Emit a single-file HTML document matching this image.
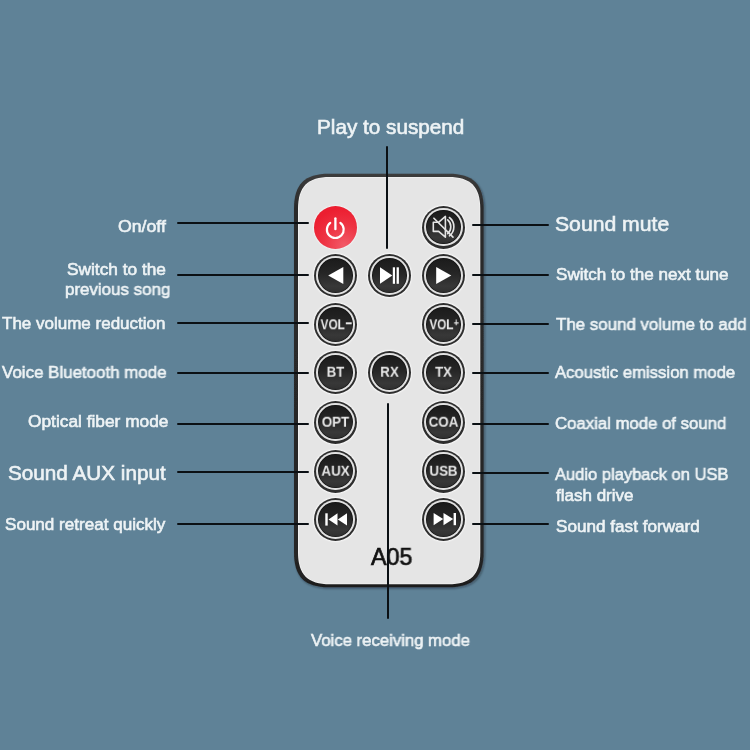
<!DOCTYPE html>
<html><head><meta charset="utf-8"><style>
html,body{margin:0;padding:0;}
body{width:750px;height:750px;overflow:hidden;background:#5f8297;position:relative;font-family:"Liberation Sans",sans-serif;}
#wrap{position:absolute;left:-20px;top:-20px;width:790px;height:790px;background:#5f8297;}
#in{position:absolute;left:20px;top:20px;width:750px;height:750px;}
.lb{position:absolute;white-space:nowrap;line-height:1;color:#eef3f5;-webkit-text-stroke:0.6px #eef3f5;transform-origin:0 50%;will-change:transform;}
.remote{position:absolute;left:294px;top:173.8px;width:189.6px;height:413.4px;border-radius:32px;background:linear-gradient(to bottom,#3c3c3c 0%,#2b2b2b 10%,#262626 90%,#1e1e1e 100%);box-shadow:0 0.5px 1.5px 0.3px rgba(0,0,0,0.5);}
.remote .face{position:absolute;left:4px;top:3.1px;right:3.3px;bottom:2.9px;border-radius:29px;background:#e5e5e5;box-shadow:inset 0 0 1.5px 1.2px #f4f4f4;}
.btn{position:absolute;width:43px;height:43px;border-radius:50%;background:#2e2e2e;box-shadow:0 0 1.5px 1px rgba(255,255,255,0.75);}
.btn .ring{position:absolute;left:2.2px;top:2.2px;right:2.2px;bottom:2.2px;border-radius:50%;background:#e2e2e2;}
.btn .disc{position:absolute;left:4.2px;top:4.2px;right:4.2px;bottom:4.2px;border-radius:50%;background:radial-gradient(circle at 50% 50%, rgba(0,0,0,0) 60%, rgba(0,0,0,0.45) 100%), linear-gradient(to bottom,#1b1b1b 0%,#262626 45%,#383838 80%,#303030 100%);box-shadow:inset 0 0 0.6px 0.6px #111;}
.ic{position:absolute;left:0;top:0;}
.pwr{position:absolute;width:43px;height:43px;border-radius:50%;background:radial-gradient(circle at 70% 92%, #f25a68 0%, #ee3444 40%, #ec1e30 75%);box-shadow:0 0 1.5px 0.8px rgba(255,255,255,0.6);}
.bt{position:absolute;left:0;right:0;top:0;bottom:0;display:flex;align-items:center;justify-content:center;color:#e8e8e8;font-weight:bold;will-change:transform;}
.mn{display:inline-block;width:6.5px;height:2px;background:#e8e8e8;margin-left:1.5px;position:relative;top:-1px;}
.pl{font-size:10.5px;position:relative;top:-1.6px;margin-left:0.3px;}
.rsvg{position:absolute;left:0;top:0;}
.ln{position:absolute;height:2px;background:#0b1014;border-radius:1px;}
.model{position:absolute;left:371.3px;top:546.3px;font-size:23.5px;line-height:1;color:#111;-webkit-text-stroke:0.7px #111;transform:scaleX(0.99);transform-origin:0 50%;will-change:transform;}
</style></head><body><div id="wrap"><div id="in">
<div class="lb" style="left:117.6px;top:218.1px;font-size:17px;transform:scaleX(1.041)">On/off</div>
<div class="lb" style="left:67.0px;top:260.6px;font-size:17px;transform:scaleX(1.017)">Switch to the</div>
<div class="lb" style="left:65.3px;top:280.7px;font-size:17px;transform:scaleX(0.995)">previous song</div>
<div class="lb" style="left:1.9px;top:315.2px;font-size:17px;transform:scaleX(1.0)">The volume reduction</div>
<div class="lb" style="left:2.3px;top:363.5px;font-size:17px;transform:scaleX(0.995)">Voice Bluetooth mode</div>
<div class="lb" style="left:27.8px;top:412.6px;font-size:17px;transform:scaleX(1.018)">Optical fiber mode</div>
<div class="lb" style="left:8.1px;top:462.6px;font-size:20.5px;transform:scaleX(1.01)">Sound AUX input</div>
<div class="lb" style="left:5.2px;top:515.9px;font-size:17px;transform:scaleX(1.004)">Sound retreat quickly</div>
<div class="lb" style="left:554.9px;top:214.1px;font-size:20.5px;transform:scaleX(1.033)">Sound mute</div>
<div class="lb" style="left:555.5px;top:265.8px;font-size:17px;transform:scaleX(1.0035)">Switch to the next tune</div>
<div class="lb" style="left:556.3px;top:315.8px;font-size:17px;transform:scaleX(0.993)">The sound volume to add</div>
<div class="lb" style="left:554.9px;top:364.4px;font-size:17px;transform:scaleX(0.983)">Acoustic emission mode</div>
<div class="lb" style="left:554.9px;top:415.0px;font-size:17px;transform:scaleX(0.985)">Coaxial mode of sound</div>
<div class="lb" style="left:554.9px;top:466.3px;font-size:17px;transform:scaleX(0.971)">Audio playback on USB</div>
<div class="lb" style="left:555.5px;top:487.1px;font-size:17px;transform:scaleX(1.0)">flash drive</div>
<div class="lb" style="left:555.5px;top:517.7px;font-size:17px;transform:scaleX(1.008)">Sound fast forward</div>
<div class="lb" style="left:316.5px;top:117.2px;font-size:20.5px;transform:scaleX(1.01)">Play to suspend</div>
<div class="lb" style="left:310.6px;top:631.5px;font-size:17px;transform:scaleX(0.983)">Voice receiving mode</div>
<svg class="rsvg" width="750" height="750" viewBox="0 0 750 750"><defs><linearGradient id="bd" x1="0" y1="0" x2="0" y2="1"><stop offset="0" stop-color="#3c3c3c"/><stop offset="0.08" stop-color="#2b2b2b"/><stop offset="0.92" stop-color="#262626"/><stop offset="1" stop-color="#1e1e1e"/></linearGradient><filter id="bl" x="-5%" y="-5%" width="110%" height="110%"><feGaussianBlur stdDeviation="0.45"/></filter><filter id="sh" x="-5%" y="-5%" width="110%" height="110%"><feGaussianBlur stdDeviation="1"/></filter></defs><path d="M330.00 175.30 L449.80 175.30 C474.30 175.30 484.80 185.80 484.80 210.30 L484.80 553.60 C484.80 578.10 474.30 588.60 449.80 588.60 L330.00 588.60 C305.50 588.60 295.00 578.10 295.00 553.60 L295.00 210.30 C295.00 185.80 305.50 175.30 330.00 175.30 Z" fill="rgba(20,25,30,0.45)" filter="url(#sh)"/><path d="M329.00 173.80 L448.60 173.80 C473.10 173.80 483.60 184.30 483.60 208.80 L483.60 552.20 C483.60 576.70 473.10 587.20 448.60 587.20 L329.00 587.20 C304.50 587.20 294.00 576.70 294.00 552.20 L294.00 208.80 C294.00 184.30 304.50 173.80 329.00 173.80 Z" fill="url(#bd)" filter="url(#bl)"/><path d="M330.00 176.90 L448.30 176.90 C470.70 176.90 480.30 186.50 480.30 208.90 L480.30 552.30 C480.30 574.70 470.70 584.30 448.30 584.30 L330.00 584.30 C307.60 584.30 298.00 574.70 298.00 552.30 L298.00 208.90 C298.00 186.50 307.60 176.90 330.00 176.90 Z" fill="#f2f2f2"/><path d="M329.90 177.80 L448.50 177.80 C470.20 177.80 479.50 187.10 479.50 208.80 L479.50 552.50 C479.50 574.20 470.20 583.50 448.50 583.50 L329.90 583.50 C308.20 583.50 298.90 574.20 298.90 552.50 L298.90 208.80 C298.90 187.10 308.20 177.80 329.90 177.80 Z" fill="#e5e5e5" filter="url(#bl)"/></svg>
<div class="pwr" style="left:314.2px;top:205.5px"><svg class="ic" width="43" height="43" viewBox="0 0 43 43"><path d="M16.24 16.89 A8.4 8.4 0 1 0 26.36 16.89" fill="none" stroke="#fff" stroke-width="2.2" stroke-linecap="round"/><line x1="21.4" y1="12.3" x2="21.4" y2="23.2" stroke="#fff" stroke-width="2.3" stroke-linecap="round"/></svg></div><div class="btn" style="left:422.2px;top:205.5px"><div class="ring"></div><div class="disc"></div><svg class="ic" width="43" height="43" viewBox="0 0 43 43"><g fill="none" stroke="#e4e4e4" stroke-width="1.6" stroke-linejoin="round" stroke-linecap="round"><path d="M11.3 16.3 L16.6 16.3 L23.4 10.4 L23.4 31.2 L16.6 25.4 L11.3 25.4 Z"/><path d="M25.7 13.9 A9.2 9.2 0 0 1 25.7 27.7"/><path d="M27.4 11.5 A11.6 11.6 0 0 1 27.4 29.8"/><line x1="11.9" y1="12.2" x2="31" y2="31.1"/></g></svg></div><div class="btn" style="left:314.2px;top:254.2px"><div class="ring"></div><div class="disc"></div><svg class="ic" width="43" height="43" viewBox="0 0 43 43"><path d="M14.2 21.6 L29.3 13.1 L29.3 30.1 Z" fill="#fff"/></svg></div><div class="btn" style="left:367.7px;top:254.2px"><div class="ring"></div><div class="disc"></div><svg class="ic" width="43" height="43" viewBox="0 0 43 43"><path d="M12 13.3 L24.3 21.6 L12 29.8 Z" fill="#fff"/><rect x="24.8" y="13.3" width="2.2" height="16.5" fill="#fff"/><rect x="28.6" y="13.3" width="2.3" height="16.5" fill="#fff"/></svg></div><div class="btn" style="left:422.2px;top:254.2px"><div class="ring"></div><div class="disc"></div><svg class="ic" width="43" height="43" viewBox="0 0 43 43"><path d="M14.2 13.1 L29.3 21.6 L14.2 30.1 Z" fill="#fff"/></svg></div><div class="btn" style="left:314.2px;top:302.9px"><div class="ring"></div><div class="disc"></div><div class="bt" style="font-size:14px;transform:translate(0.6px,-0.7px) scaleX(0.84)">VOL<span class="mn"></span></div></div><div class="btn" style="left:422.2px;top:302.9px"><div class="ring"></div><div class="disc"></div><div class="bt" style="font-size:14px;transform:translate(0.6px,-0.7px) scaleX(0.84)">VOL<span class="pl">+</span></div></div><div class="btn" style="left:314.2px;top:351.3px"><div class="ring"></div><div class="disc"></div><div class="bt" style="font-size:14.6px;transform:translateY(-1.3px) scaleX(0.91)">BT</div></div><div class="btn" style="left:367.7px;top:351.3px"><div class="ring"></div><div class="disc"></div><div class="bt" style="font-size:14.6px;transform:translateY(-1.3px) scaleX(0.91)">RX</div></div><div class="btn" style="left:422.2px;top:351.3px"><div class="ring"></div><div class="disc"></div><div class="bt" style="font-size:14.6px;transform:translateY(-1.3px) scaleX(0.91)">TX</div></div><div class="btn" style="left:314.2px;top:400.5px"><div class="ring"></div><div class="disc"></div><div class="bt" style="font-size:14.6px;transform:translateY(-1.3px) scaleX(0.91)">OPT</div></div><div class="btn" style="left:422.2px;top:400.5px"><div class="ring"></div><div class="disc"></div><div class="bt" style="font-size:14.6px;transform:translateY(-1.3px) scaleX(0.91)">COA</div></div><div class="btn" style="left:314.2px;top:449.5px"><div class="ring"></div><div class="disc"></div><div class="bt" style="font-size:14.6px;transform:translateY(-1.3px) scaleX(0.91)">AUX</div></div><div class="btn" style="left:422.2px;top:449.5px"><div class="ring"></div><div class="disc"></div><div class="bt" style="font-size:14.6px;transform:translateY(-1.3px) scaleX(0.91)">USB</div></div><div class="btn" style="left:314.2px;top:497.9px"><div class="ring"></div><div class="disc"></div><svg class="ic" width="43" height="43" viewBox="0 0 43 43"><rect x="11.3" y="15.3" width="2.4" height="12.3" fill="#fff"/><path d="M14.5 21.4 L23.5 15.3 L23.5 27.6 Z" fill="#fff"/><path d="M23.8 21.4 L33 15.3 L33 27.6 Z" fill="#fff"/></svg></div><div class="btn" style="left:422.2px;top:497.9px"><div class="ring"></div><div class="disc"></div><svg class="ic" width="43" height="43" viewBox="0 0 43 43"><path d="M11.6 15 L21.2 21.1 L11.6 27.2 Z" fill="#fff"/><path d="M21.5 15 L31.2 21.1 L21.5 27.2 Z" fill="#fff"/><rect x="31.6" y="15" width="2.4" height="12.2" fill="#fff"/></svg></div>
<div class="model">A05</div>
<div class="ln" style="left:177px;top:222.2px;width:132px"></div><div class="ln" style="left:177px;top:273.8px;width:132px"></div><div class="ln" style="left:177px;top:322.3px;width:132px"></div><div class="ln" style="left:177px;top:371.7px;width:132px"></div><div class="ln" style="left:177px;top:422.7px;width:132px"></div><div class="ln" style="left:177px;top:471.4px;width:132px"></div><div class="ln" style="left:177px;top:522.6px;width:132px"></div><div class="ln" style="left:471.5px;top:224.4px;width:77.5px"></div><div class="ln" style="left:471.5px;top:273.8px;width:77.5px"></div><div class="ln" style="left:471.5px;top:322.6px;width:77.5px"></div><div class="ln" style="left:471.5px;top:371.7px;width:77.5px"></div><div class="ln" style="left:471.5px;top:422.6px;width:77.5px"></div><div class="ln" style="left:471.5px;top:471.7px;width:77.5px"></div><div class="ln" style="left:471.5px;top:522.9px;width:77.5px"></div><div class="ln" style="left:386.3px;top:146.3px;width:2px;height:102.7px"></div><div class="ln" style="left:386.6px;top:403.4px;width:2px;height:215.3px"></div>
</div></div></body></html>
